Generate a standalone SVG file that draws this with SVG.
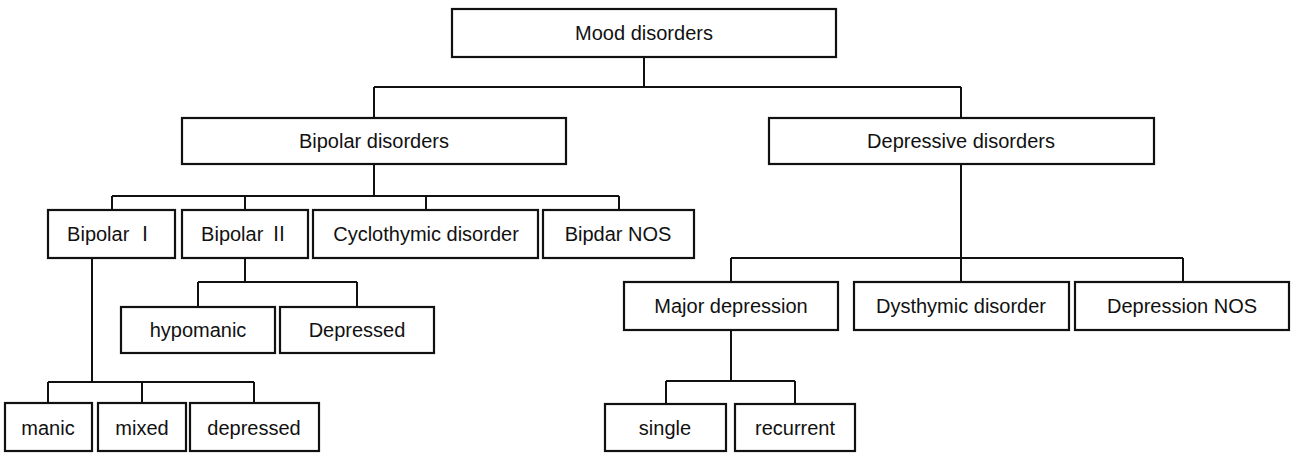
<svg xmlns="http://www.w3.org/2000/svg" width="1292" height="453" viewBox="0 0 1292 453">
<style>
.box{fill:#fff;stroke:#111;stroke-width:2.2}
.t{font-family:"Liberation Sans","Noto Sans CJK KR",sans-serif;font-size:20px;fill:#111;text-anchor:middle;dominant-baseline:central}
.c{fill:none;stroke:#111;stroke-width:2}
</style>
<rect width="1292" height="453" fill="#fff"/>
<g id="connectors">
<path class="c" d="M644 57V87M374 87H961M374 87V118M961 87V118"/>
<path class="c" d="M374 164V196M112 196H619M112 196V210M245 196V210M426 196V210M619 196V210"/>
<path class="c" d="M92 258V382M48 382H254M48 382V403M142 382V403M254 382V403"/>
<path class="c" d="M245 258V282M198 282H357M198 282V307M357 282V307"/>
<path class="c" d="M961 164V282M731 258H1183M731 258V282M1183 258V282"/>
<path class="c" d="M731 330V381M666 381H795M666 381V404M795 381V404"/>
</g>
<g id="mood"><rect class="box" x="452" y="9" width="384" height="48"/><text class="t" x="644" y="33">Mood disorders</text></g>
<g id="bipolar"><rect class="box" x="182" y="118" width="384" height="46"/><text class="t" x="374" y="141">Bipolar disorders</text></g>
<g id="depressive"><rect class="box" x="769" y="118" width="385" height="46"/><text class="t" x="961" y="141">Depressive disorders</text></g>
<g id="bipolar1"><rect class="box" x="48" y="210" width="127" height="48"/><text class="t" x="111" y="234">Bipolar Ⅰ</text></g>
<g id="bipolar2"><rect class="box" x="182" y="210" width="126" height="48"/><text class="t" x="245" y="234">Bipolar Ⅱ</text></g>
<g id="cyclothymic"><rect class="box" x="313" y="210" width="225" height="48"/><text class="t" x="426" y="234">Cyclothymic disorder</text></g>
<g id="bipolarnos"><rect class="box" x="543" y="210" width="151" height="48"/><text class="t" x="618" y="234">Bipdar NOS</text></g>
<g id="hypomanic"><rect class="box" x="121" y="307" width="154" height="46"/><text class="t" x="198" y="330">hypomanic</text></g>
<g id="depressed2"><rect class="box" x="280" y="307" width="154" height="46"/><text class="t" x="357" y="330">Depressed</text></g>
<g id="manic"><rect class="box" x="5" y="403" width="87" height="48"/><text class="t" x="48" y="428">manic</text></g>
<g id="mixed"><rect class="box" x="98" y="403" width="88" height="48"/><text class="t" x="142" y="428">mixed</text></g>
<g id="depressed1"><rect class="box" x="190" y="403" width="129" height="48"/><text class="t" x="254" y="428">depressed</text></g>
<g id="major"><rect class="box" x="624" y="282" width="214" height="48"/><text class="t" x="731" y="306">Major depression</text></g>
<g id="dysthymic"><rect class="box" x="854" y="282" width="215" height="48"/><text class="t" x="961" y="306">Dysthymic disorder</text></g>
<g id="depnos"><rect class="box" x="1075" y="282" width="214" height="48"/><text class="t" x="1182" y="306">Depression NOS</text></g>
<g id="single"><rect class="box" x="605" y="404" width="121" height="47"/><text class="t" x="665" y="428">single</text></g>
<g id="recurrent"><rect class="box" x="735" y="404" width="120" height="47"/><text class="t" x="795" y="428">recurrent</text></g>
</svg>
